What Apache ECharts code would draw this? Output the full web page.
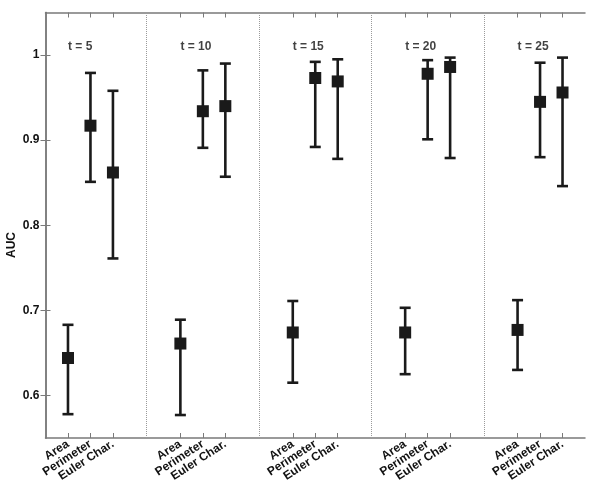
<!DOCTYPE html>
<html>
<head>
<meta charset="utf-8">
<script src="https://cdn.jsdelivr.net/npm/echarts@6/dist/echarts.min.js"></script>
<style>html,body{margin:0;padding:0;background:#fff}#c{width:600px;height:494px}</style>
</head>
<body>
<div id="c"></div>
<script>
// ---- data ----
var groups = ['t = 5', 't = 10', 't = 15', 't = 20', 't = 25'];
var features = ['Area', 'Perimeter', 'Euler Char.'];
var meanArea  = [0.644, 0.661, 0.674, 0.674, 0.677];
var lowArea   = [0.578, 0.577, 0.615, 0.625, 0.630];
var highArea  = [0.683, 0.689, 0.711, 0.703, 0.712];
var meanPerim = [0.917, 0.934, 0.973, 0.978, 0.945];
var lowPerim  = [0.851, 0.891, 0.892, 0.901, 0.880];
var highPerim = [0.979, 0.982, 0.992, 0.994, 0.991];
var meanEuler = [0.862, 0.940, 0.969, 0.986, 0.956];
var lowEuler  = [0.761, 0.857, 0.878, 0.879, 0.846];
var highEuler = [0.958, 0.990, 0.995, 0.997, 0.997];
var yTicks = [0.6, 0.7, 0.8, 0.9, 1];
var groupTitleY = 1.01;

// ---- build ----
var means = [meanArea, meanPerim, meanEuler];
var lows = [lowArea, lowPerim, lowEuler];
var highs = [highArea, highPerim, highEuler];
var slot = features.length + 2; // spacing between groups on the x scale
var xTicks = [], labelMap = {}, meanData = [], errData = [], titleData = [], seps = [];
groups.forEach(function (g, gi) {
  var base = 1 + gi * slot;
  titleData.push({ value: [base, groupTitleY], name: g });
  if (gi > 0) seps.push({ xAxis: base - 1.5 });
  features.forEach(function (f, fi) {
    var x = base + fi;
    xTicks.push(x);
    labelMap[x] = f;
    meanData.push([x, means[fi][gi]]);
    errData.push([x, lows[fi][gi], highs[fi][gi]]);
  });
});
var xMax = groups.length * slot - 1;

var axisCol = '#7a7a7a';
var font = '"Liberation Sans", Arial, Helvetica, sans-serif';
var mark = '#1a1a1a';

var chart = echarts.init(document.getElementById('c'), null, { renderer: 'canvas' });
chart.setOption({
  animation: false,
  backgroundColor: '#fff',
  grid: { left: 45.5, right: 15, top: 12.5, bottom: 56, containLabel: false },
  xAxis: [{
    type: 'value', min: 0, max: xMax, position: 'bottom',
    axisLine: { show: true, lineStyle: { color: axisCol, width: 1.5 } },
    axisTick: { show: true, inside: true, length: 5, customValues: xTicks, lineStyle: { color: axisCol } },
    axisLabel: {
      show: true, customValues: xTicks, rotate: 33, margin: 5,
      formatter: function (v) { return labelMap[v] || ''; },
      color: '#111', fontFamily: font, fontWeight: 'bold', fontSize: 12
    },
    splitLine: { show: false }
  }, {
    type: 'value', min: 0, max: xMax, position: 'top',
    axisLine: { show: true, lineStyle: { color: axisCol, width: 1.5 } },
    axisTick: { show: true, inside: true, length: 5, customValues: xTicks, lineStyle: { color: axisCol } },
    axisLabel: { show: false }, splitLine: { show: false }
  }],
  yAxis: [{
    type: 'value', min: 0.55, max: 1.05, position: 'left',
    axisLine: { show: true, lineStyle: { color: axisCol, width: 1.5 } },
    axisTick: { show: true, inside: true, length: 5, customValues: yTicks, lineStyle: { color: axisCol } },
    axisLabel: {
      show: true, customValues: yTicks, margin: 6,
      formatter: function (v) { return String(+v.toFixed(2)); },
      color: '#111', fontFamily: font, fontWeight: 'bold', fontSize: 12
    },
    splitLine: { show: false }
  }, {
    type: 'value', min: 0.55, max: 1.05, position: 'right',
    axisLine: { show: true, lineStyle: { color: axisCol, width: 1.5 } },
    axisTick: { show: true, inside: true, length: 5, customValues: yTicks, lineStyle: { color: axisCol } },
    axisLabel: { show: false }, splitLine: { show: false }
  }],
  graphic: [{
    type: 'text', x: 12, y: 245, rotation: Math.PI / 2,
    style: { text: 'AUC', font: 'bold 12px ' + font, fill: '#111', align: 'center', verticalAlign: 'middle' }
  }],
  series: [{
    type: 'custom', xAxisIndex: 0, yAxisIndex: 0, data: errData, z: 3,
    renderItem: function (params, api) {
      var x = api.value(0);
      var lo = api.coord([x, api.value(1)]);
      var hi = api.coord([x, api.value(2)]);
      var w = 5.5;
      var st = { stroke: mark, lineWidth: 2.6 };
      return {
        type: 'group', children: [
          { type: 'line', shape: { x1: lo[0], y1: lo[1], x2: hi[0], y2: hi[1] }, style: st },
          { type: 'line', shape: { x1: lo[0] - w, y1: lo[1], x2: lo[0] + w, y2: lo[1] }, style: st },
          { type: 'line', shape: { x1: hi[0] - w, y1: hi[1], x2: hi[0] + w, y2: hi[1] }, style: st }
        ]
      };
    },
    markLine: {
      silent: true, symbol: 'none', label: { show: false },
      lineStyle: { type: 'dotted', color: '#9a9a9a', width: 1 },
      data: seps
    }
  }, {
    type: 'scatter', xAxisIndex: 0, yAxisIndex: 0, data: meanData, z: 4,
    symbol: 'rect', symbolSize: 12,
    itemStyle: { color: mark, opacity: 1 }
  }, {
    type: 'scatter', xAxisIndex: 0, yAxisIndex: 0, data: titleData, z: 4,
    symbolSize: 0,
    label: {
      show: true, position: 'right', distance: 0,
      formatter: function (p) { return p.name; },
      color: '#111', fontFamily: font, fontWeight: 'bold', fontSize: 12
    }
  }]
});
</script>
</body>
</html>
